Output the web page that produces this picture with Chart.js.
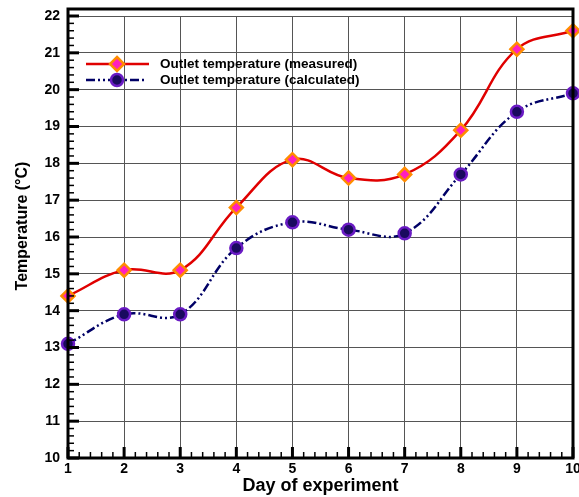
<!DOCTYPE html>
<html>
<head>
<meta charset="utf-8">
<script src="https://cdn.jsdelivr.net/npm/chart.js@4.4.1/dist/chart.umd.min.js"></script>
<style>
    html, body { margin: 0; padding: 0; background: #fff; }
    #wrap { width: 579px; height: 497px; }
</style>
</head>
<body>
<div id="wrap"><canvas id="tempChart" width="579" height="497"></canvas></div>
<script>
// Data
const days = [1, 2, 3, 4, 5, 6, 7, 8, 9, 10];
const measured = [14.4, 15.1, 15.1, 16.8, 18.1, 17.6, 17.7, 18.9, 21.1, 21.6];
const calculated = [13.1, 13.9, 13.9, 15.7, 16.4, 16.2, 16.1, 17.7, 19.4, 19.9];
const yTicks = [10, 11, 12, 13, 14, 15, 16, 17, 18, 19, 20, 21, 22];
const xTicks = [1, 2, 3, 4, 5, 6, 7, 8, 9, 10];
const seriesNames = ['Outlet temperature (measured)', 'Outlet temperature (calculated)'];
const yTitle = 'Temperature (°C)';

const FONT = "'Liberation Sans', Arial, sans-serif";
const calcDash = [9, 3, 2, 3, 2, 3];

// Frame, minor ticks, x labels, y title and legend inside the plot
const framePlugin = {
    id: 'frame',
    afterDraw(chart) {
        const c = chart.ctx;
        const a = chart.chartArea;
        const xs = chart.scales.x;
        const ys = chart.scales.y;
        c.save();
        c.strokeStyle = '#000';

        // minor & major ticks on x axis (inward) + labels
        c.font = 'bold 14px ' + FONT;
        c.textAlign = 'center';
        c.textBaseline = 'middle';
        c.fillStyle = '#000';
        for (let i = 0; i < xTicks.length; i++) {
            const px = xs.getPixelForValue(xTicks[i]);
            c.lineWidth = 3;
            c.beginPath();
            c.moveTo(px, a.bottom);
            c.lineTo(px, a.bottom - 11);
            c.stroke();
            c.fillText(String(xTicks[i]), px, a.bottom + 11);
            if (i < xTicks.length - 1) {
                for (let k = 1; k < 5; k++) {
                    const mx = xs.getPixelForValue(xTicks[i] + k * 0.2);
                    c.lineWidth = 1.5;
                    c.beginPath();
                    c.moveTo(mx, a.bottom);
                    c.lineTo(mx, a.bottom - 6);
                    c.stroke();
                }
            }
        }
        // y axis ticks
        for (let i = 0; i < yTicks.length; i++) {
            const py = ys.getPixelForValue(yTicks[i]);
            c.lineWidth = 3;
            c.beginPath();
            c.moveTo(a.left, py);
            c.lineTo(a.left + 11, py);
            c.stroke();
            if (i < yTicks.length - 1) {
                for (let k = 1; k < 5; k++) {
                    const my = ys.getPixelForValue(yTicks[i] + k * 0.2);
                    c.lineWidth = 1.5;
                    c.beginPath();
                    c.moveTo(a.left, my);
                    c.lineTo(a.left + 6, my);
                    c.stroke();
                }
            }
        }

        // frame
        c.lineWidth = 3;
        c.strokeRect(a.left, a.top - 7, a.right - a.left, a.bottom - a.top + 7);

        // y title (sedikit di atas tengah)
        c.save();
        c.translate(27, 226);
        c.rotate(-Math.PI / 2);
        c.font = 'bold 16px ' + FONT;
        c.textAlign = 'center';
        c.textBaseline = 'alphabetic';
        c.fillStyle = '#000';
        c.fillText(yTitle, 0, 0);
        c.restore();

        // legend
        c.font = 'bold 13.5px ' + FONT;
        c.textAlign = 'left';
        c.textBaseline = 'middle';
        c.fillStyle = '#000';
        // measured
        let ly = 64;
        c.strokeStyle = '#e00000';
        c.lineWidth = 2.5;
        c.beginPath();
        c.moveTo(86, ly);
        c.lineTo(149, ly);
        c.stroke();
        c.fillStyle = '#ff1fbf';
        c.strokeStyle = '#ff8c00';
        c.beginPath();
        c.moveTo(117, ly - 7);
        c.lineTo(124, ly);
        c.lineTo(117, ly + 7);
        c.lineTo(110, ly);
        c.closePath();
        c.fill();
        c.stroke();
        c.fillStyle = '#000';
        c.fillText(seriesNames[0], 160, ly);
        // calculated
        ly = 80;
        c.strokeStyle = '#000066';
        c.setLineDash(calcDash);
        c.beginPath();
        c.moveTo(86, ly);
        c.lineTo(146, ly);
        c.stroke();
        c.setLineDash([]);
        c.fillStyle = '#1a0a5e';
        c.strokeStyle = '#6a1bc4';
        c.beginPath();
        c.arc(117, ly, 6, 0, Math.PI * 2);
        c.fill();
        c.stroke();
        c.fillStyle = '#000';
        c.fillText(seriesNames[1], 160, ly);
        c.restore();
    }
};

const ctx = document.getElementById('tempChart').getContext('2d');
const tempChart = new Chart(ctx, {
    type: 'line',
    data: {
        datasets: [{
            label: seriesNames[0],
            data: days.map((d, i) => ({ x: d, y: measured[i] })),
            borderColor: '#e00000',
            borderWidth: 2.5,
            tension: 0.4,
            pointStyle: 'rectRot',
            pointRadius: 6.5,
            pointBackgroundColor: '#ff1fbf',
            pointBorderColor: '#ff8c00',
            pointBorderWidth: 2.5,
            clip: false
        }, {
            label: seriesNames[1],
            data: days.map((d, i) => ({ x: d, y: calculated[i] })),
            borderColor: '#000066',
            borderWidth: 2.5,
            borderDash: calcDash,
            tension: 0.4,
            pointStyle: 'circle',
            pointRadius: 6,
            pointBackgroundColor: '#1a0a5e',
            pointBorderColor: '#6a1bc4',
            pointBorderWidth: 2.5,
            clip: false
        }]
    },
    options: {
        responsive: false,
        animation: false,
        layout: { autoPadding: false, padding: { top: 16, right: 6, left: 0, bottom: 0 } },
        plugins: {
            legend: { display: false },
            tooltip: { enabled: false }
        },
        scales: {
            x: {
                type: 'linear',
                min: 1,
                max: 10,
                afterBuildTicks: (s) => { s.ticks = xTicks.map(v => ({ value: v })); },
                ticks: { display: false },
                grid: { color: '#555', lineWidth: 1, drawTicks: false },
                border: { display: false },
                title: {
                    display: true,
                    text: 'Day of experiment',
                    color: '#000',
                    font: { family: FONT, size: 18, weight: 'bold' },
                    padding: { top: 0, bottom: 0 }
                },
                afterFit: (s) => { s.height = 39; }
            },
            y: {
                min: 10,
                max: 22,
                afterBuildTicks: (s) => { s.ticks = yTicks.map(v => ({ value: v })); },
                ticks: {
                    color: '#000',
                    font: { family: FONT, size: 14, weight: 'bold' },
                    padding: 8
                },
                grid: { color: '#555', lineWidth: 1, drawTicks: false },
                border: { display: false },
                title: { display: false },
                afterFit: (s) => { s.width = 68; s.paddingTop = 0; s.paddingBottom = 0; }
            }
        }
    },
    plugins: [framePlugin]
});
</script>
</body>
</html>
